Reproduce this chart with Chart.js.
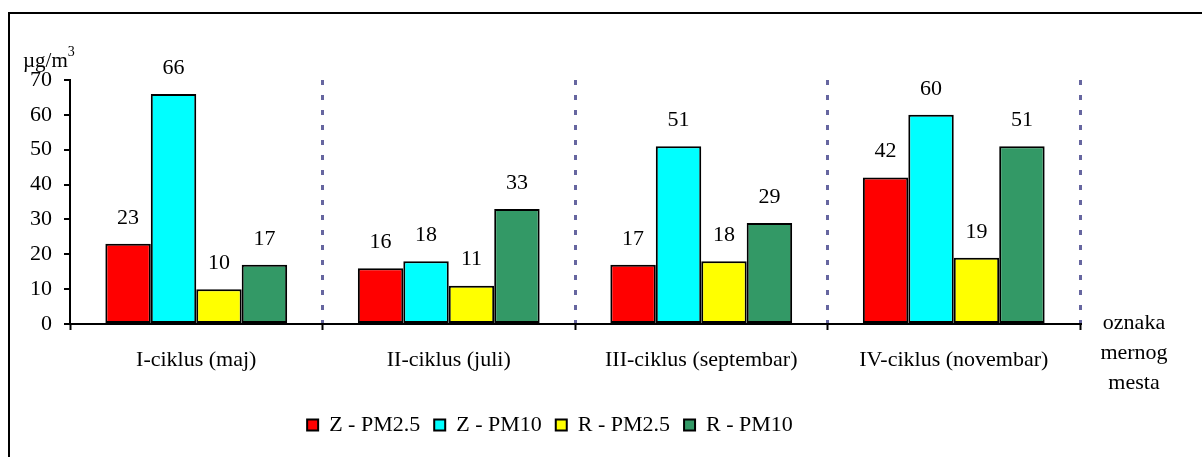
<!DOCTYPE html>
<html>
<head>
<meta charset="utf-8">
<script src="https://cdn.jsdelivr.net/npm/chart.js@4.4.1/dist/chart.umd.min.js"></script>
<style>
  body { margin: 0; background: #fff; overflow: hidden; }
  #frame { position: absolute; left: 8px; top: 12px; width: 1400px; height: 600px; border: 2px solid #000; }
  #wrap { position: absolute; left: 0; top: 0; width: 1202px; height: 457px; }
</style>
</head>
<body>
<div id="frame"></div>
<div id="wrap"><canvas id="myChart" width="1202" height="457"></canvas></div>
<script>
// kategorije (ciklusi merenja)
const ciklusi = ['I-ciklus (maj)', 'II-ciklus (juli)', 'III-ciklus (septembar)', 'IV-ciklus (novembar)'];
// koncentracije u µg/m3
const zPM25 = [23, 16, 17, 42];
const zPM10 = [66, 18, 51, 60];
const rPM25 = [10, 11, 18, 19];
const rPM10 = [17, 33, 29, 51];
const yTicks = [0, 10, 20, 30, 40, 50, 60, 70];

const FONT = '"Liberation Serif", "Times New Roman", serif';
const FS = 22;

// vrednosti iznad stubova + natpisi osa
const labelsPlugin = {
  id: 'labelsPlugin',
  afterDatasetsDraw(chart) {
    const ctx = chart.ctx;
    ctx.save();
    ctx.fillStyle = '#000';
    ctx.font = FS + 'px ' + FONT;
    ctx.textAlign = 'center';
    ctx.textBaseline = 'middle';
    chart.data.datasets.forEach((ds, i) => {
      chart.getDatasetMeta(i).data.forEach((bar, j) => {
        ctx.fillText(ds.data[j], bar.x, bar.y - 26);
      });
    });
    // jedinica na y osi
    ctx.textAlign = 'left';
    ctx.textBaseline = 'alphabetic';
    ctx.font = '21px ' + FONT;
    ctx.fillText('µg/m', 23, 67);
    const w = ctx.measureText('µg/m').width;
    ctx.font = '14px ' + FONT;
    ctx.fillText('3', 23 + w, 56);
    // natpis x ose
    ctx.font = FS + 'px ' + FONT;
    ctx.textAlign = 'center';
    ctx.textBaseline = 'middle';
    ['oznaka', 'mernog', 'mesta'].forEach((t, k) => ctx.fillText(t, 1134, 323 + k * 30));
    ctx.restore();
  }
};

new Chart(document.getElementById('myChart'), {
  type: 'bar',
  data: {
    labels: ciklusi,
    datasets: [
      { label: 'Z - PM2.5', data: zPM25, backgroundColor: '#ff0000' },
      { label: 'Z - PM10', data: zPM10, backgroundColor: '#00ffff' },
      { label: 'R - PM2.5', data: rPM25, backgroundColor: '#ffff00' },
      { label: 'R - PM10', data: rPM10, backgroundColor: '#339966' }
    ].map(d => Object.assign(d, {
      borderColor: '#000', borderWidth: 2, borderSkipped: false,
      categoryPercentage: 0.72, barPercentage: 1
    }))
  },
  options: {
    responsive: false,
    animation: false,
    layout: { padding: { left: 20, right: 122, top: 80, bottom: 11 } },
    plugins: {
      tooltip: { enabled: false },
      legend: {
        position: 'bottom',
        labels: {
          color: '#000',
          font: { family: FONT, size: FS },
          boxWidth: 11, boxHeight: 11, padding: 14
        }
      }
    },
    scales: {
      x: {
        afterFit: s => { s.height = 76; },
        grid: {
          offset: true,
          color: c => c.index === 0 ? 'rgba(0,0,0,0)' : '#6666a0',
          lineWidth: 3,
          tickColor: '#000', tickWidth: 2, tickLength: 6, tickBorderDash: []
        },
        border: { color: '#000', width: 2, dash: [5, 10] },
        ticks: { color: '#000', font: { family: FONT, size: FS }, padding: 17, maxRotation: 0 }
      },
      y: {
        min: 0, max: 70,
        afterFit: s => { s.width = 50; },
        afterBuildTicks: s => { s.ticks = yTicks.map(v => ({ value: v })); },
        grid: { drawOnChartArea: false, color: '#000', lineWidth: 2, tickLength: 6 },
        border: { color: '#000', width: 2 },
        ticks: { color: '#000', font: { family: FONT, size: FS }, padding: 12 }
      }
    }
  },
  plugins: [labelsPlugin]
});
</script>
</body>
</html>
